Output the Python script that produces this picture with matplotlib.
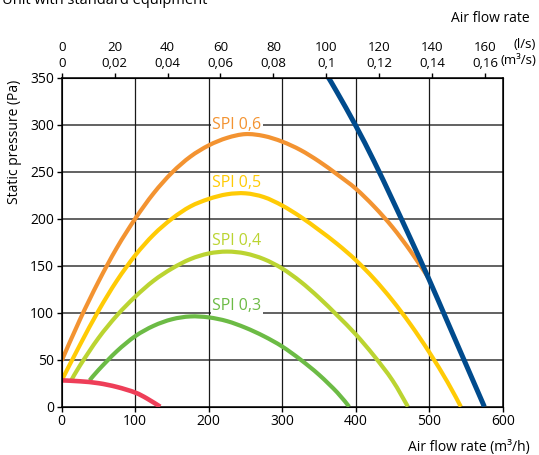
import matplotlib
matplotlib.use("Agg")
import matplotlib.pyplot as plt
from matplotlib.path import Path
from matplotlib.patches import PathPatch

plt.rcParams['font.family'] = ['Open Sans', 'DejaVu Sans']
plt.rcParams['font.size'] = 10

# SPI curves: air flow (m3/h) -> static pressure (Pa)
spi06_x = [0, 25, 50, 75, 100, 125, 150, 175, 200, 225, 250, 275, 300, 325, 350, 375, 400, 425, 450, 475, 499]
spi06_y = [49, 93, 133, 169, 200, 227, 249, 266, 278, 286, 290, 288, 282, 273, 261, 247, 232, 213, 191, 165, 137]

spi05_x = [0, 25, 50, 75, 100, 125, 150, 175, 200, 225, 250, 275, 300, 325, 350, 375, 400, 425, 450, 475, 500, 525, 543]
spi05_y = [28, 66, 102, 134, 161, 183, 200, 213, 221, 226, 227, 223, 214, 202, 188, 173, 156, 136, 113, 87, 58, 26, 0]

spi04_x = [13, 25, 50, 75, 100, 125, 150, 175, 200, 225, 250, 275, 300, 325, 350, 375, 400, 425, 450, 471]
spi04_y = [28, 44, 73, 97, 117, 134, 147, 157, 163, 165, 163, 157, 147, 133, 116, 97, 77, 54, 28, 0]

spi03_x = [38, 50, 75, 100, 125, 150, 175, 200, 225, 250, 275, 300, 325, 350, 375, 391]
spi03_y = [28, 39, 59, 75, 86, 93, 96, 95, 91, 84, 75, 64, 50, 34, 15, 0]

min_x = [0, 25, 50, 75, 100, 116, 134]
min_y = [28, 27, 25, 21, 15, 8.7, 0]

max_x = [363, 375, 400, 425, 450, 475, 500, 525, 550, 575]
max_y = [350, 334, 299, 261, 220, 178, 135, 90, 45, 0]

curves = [
    (spi06_x, spi06_y, '#F39331'),
    (spi05_x, spi05_y, '#FFCB05'),
    (spi04_x, spi04_y, '#BBD431'),
    (spi03_x, spi03_y, '#6CBB45'),
]
spi_labels = ["SPI 0,6", "SPI 0,5", "SPI 0,4", "SPI 0,3"]
label_y = [300, 238, 176, 107]

# top axis
ls_ticks = [0, 20, 40, 60, 80, 100, 120, 140, 160]
m3s_labels = ["0", "0,02", "0,04", "0,06", "0,08", "0,1", "0,12", "0,14", "0,16"]


def smooth_curve(ax, xs, ys, color, lw, z):
    # smooth bezier through the read points (catmull-rom style handles)
    pts = list(zip(xs, ys))
    verts = [pts[0]]
    codes = [Path.MOVETO]
    n = len(pts)
    for i in range(n - 1):
        p0 = pts[i - 1] if i > 0 else pts[i]
        p1 = pts[i]
        p2 = pts[i + 1]
        p3 = pts[i + 2] if i + 2 < n else pts[i + 1]
        c1 = (p1[0] + (p2[0] - p0[0]) / 6, p1[1] + (p2[1] - p0[1]) / 6)
        c2 = (p2[0] - (p3[0] - p1[0]) / 6, p2[1] - (p3[1] - p1[1]) / 6)
        verts += [c1, c2, p2]
        codes += [Path.CURVE4] * 3
    patch = PathPatch(Path(verts, codes), fill=False, edgecolor=color, lw=lw,
                      capstyle='butt', joinstyle='round', zorder=z)
    ax.add_patch(patch)


fig = plt.figure(figsize=(5.39, 4.55), dpi=100)
ax = fig.add_axes([0.1145, 0.1062, 0.8182, 0.7230])

ax.set_xlim(0, 600)
ax.set_ylim(0, 350)
ax.set_xticks(range(0, 601, 100))
ax.set_yticks(range(0, 351, 50))

for yv in range(50, 350, 50):
    ax.axhline(yv, color='#555555', lw=1.3, zorder=1)
for xv in range(100, 600, 100):
    ax.axvline(xv, color='#1a1a1a', lw=0.9, zorder=1)

for (x, y, c) in curves:
    smooth_curve(ax, x, y, c, 3.0, 3)
smooth_curve(ax, min_x, min_y, '#EE3E58', 3.3, 3)
smooth_curve(ax, max_x, max_y, '#004B8D', 3.6, 4)

for (x, y, c), lab, ly in zip(curves, spi_labels, label_y):
    ax.text(205, ly, lab, color=c, fontsize=11.5, ha='left', va='center', zorder=2,
            bbox=dict(facecolor='white', edgecolor='none', pad=1.2))

for s in ax.spines.values():
    s.set_color('black')
    s.set_linewidth(1.1)
ax.tick_params(direction='out', length=3.5, width=1, colors='black', labelsize=10, pad=2)

top = ax.twiny()
top.set_xlim(0, 600)
top.set_xticks([v * 3.6 for v in ls_ticks])
top.set_xticklabels([f"{a}\n{b}" for a, b in zip(ls_ticks, m3s_labels)], linespacing=1.3)
top.tick_params(direction='out', length=3.5, width=1, labelsize=9.5, pad=2)

fig.text(536 / 539, 1 - 53 / 455, "(l/s)\n(m\u00b3/s)", ha='right', va='center', fontsize=9.5,
         linespacing=1.3, multialignment='right')
fig.text(530 / 539, 1 - 18 / 455, "Air flow rate", ha='right', va='center', fontsize=10)
fig.text(530 / 539, 1 - 447 / 455, "Air flow rate (m\u00b3/h)", ha='right', va='center', fontsize=10)
fig.text(14 / 539, 1 - 142 / 455, "Static pressure (Pa)", rotation=90, ha='center', va='center', fontsize=10)
fig.text(0.004, 1 - 4 / 455, "Unit with standard equipment", ha='left', va='baseline', fontsize=10.5)

fig.savefig("out.png", dpi=100)
